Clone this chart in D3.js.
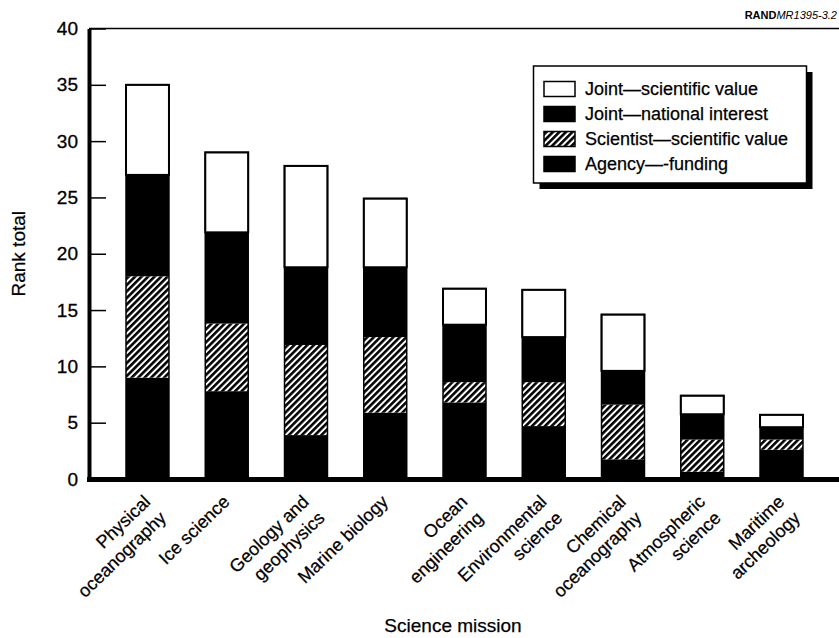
<!DOCTYPE html>
<html><head><meta charset="utf-8">
<script src="https://cdn.jsdelivr.net/npm/d3@7"></script>
<style>body{margin:0;background:#fff}svg{display:block;font-family:"Liberation Sans",Arial,Helvetica,sans-serif}</style>
</head><body><svg id="c" width="839" height="638"></svg>
<script>
// ---- data ----
const categories = ["Physical\noceanography","Ice science","Geology and\ngeophysics","Marine biology","Ocean\nengineering","Environmental\nscience","Chemical\noceanography","Atmospheric\nscience","Maritime\narcheology"];
const agencyFunding    = [9, 7.8, 3.9, 5.9, 6.8, 4.7, 1.75, 0.65, 2.6];
const scientistValue   = [9, 6.0, 8.0, 6.7, 1.8, 3.9, 4.85, 2.85, 0.9];
const jointNational    = [9, 8.1, 6.9, 6.2, 5.1, 4.0, 3.0, 2.25, 1.1];
const jointScientific  = [8, 7.1, 9.0, 6.1, 3.2, 4.2, 5.0, 1.65, 1.1];
const yTicks = [0,5,10,15,20,25,30,35,40];
const legendLabels = ["Joint\u2014scientific value","Joint\u2014national interest","Scientist\u2014scientific value","Agency\u2014-funding"];

const svg = d3.select("#c");
const X0 = 89, X1 = 840, Y0 = 479, Y1 = 28.5;

const x = d3.scaleBand().domain(categories).range([X0, X1]).paddingInner(0.458).paddingOuter(0.467);
const y = d3.scaleLinear().domain([0, 40]).range([Y0, Y1]);

const defs = svg.append("defs");
const pat = defs.append("pattern").attr("id","hatch").attr("patternUnits","userSpaceOnUse")
  .attr("width",4.6).attr("height",4.6).attr("patternTransform","rotate(45)");
pat.append("rect").attr("width",4.6).attr("height",4.6).attr("fill","#fff");
pat.append("rect").attr("x",0).attr("width",2.6).attr("height",4.6).attr("fill","#000");

const fills = ["#000","url(#hatch)","#000","#fff"];

const rows = categories.map((c,i)=>({cat:c, a:agencyFunding[i], s:scientistValue[i], n:jointNational[i], j:jointScientific[i]}));
const stack = d3.stack().keys(["a","s","n","j"])(rows);

// top frame line
svg.append("line").attr("x1",X0).attr("x2",839).attr("y1",Y1).attr("y2",Y1)
  .attr("stroke","#000").attr("stroke-width",1.6);

// bars
stack.forEach((layer,k)=>{
  svg.append("g").selectAll("rect").data(layer).join("rect")
    .attr("x", d=>x(d.data.cat)).attr("width", x.bandwidth())
    .attr("y", d=>y(d[1])).attr("height", d=>y(d[0])-y(d[1]))
    .attr("fill", fills[k])
    .attr("stroke", k===3 ? "#000" : "none").attr("stroke-width", 2);
});
// bar outlines
svg.append("g").selectAll("rect").data(stack[3]).join("rect")
  .attr("x", d=>x(d.data.cat)).attr("width", x.bandwidth())
  .attr("y", d=>y(d[1])).attr("height", d=>y(0)-y(d[1]))
  .attr("fill","none").attr("stroke","#000").attr("stroke-width",1.5);

// y axis
const gy = svg.append("g").attr("transform",`translate(${X0},0)`)
  .call(d3.axisLeft(y).tickValues(yTicks).tickSizeInner(-17).tickSizeOuter(0).tickPadding(11));
gy.select(".domain").attr("stroke-width",4);
gy.selectAll(".tick line").attr("stroke-width",1.5);
gy.selectAll(".tick text").attr("font-size",19).attr("font-family",null).attr("fill","#000")
  .attr("stroke","#000").attr("stroke-width",0.3);

// x axis
const gx = svg.append("g").attr("transform",`translate(0,${Y0})`)
  .call(d3.axisBottom(x).tickSize(0).tickSizeOuter(0));
gx.select(".domain").attr("d",`M${X0-2},0.5H839`).attr("stroke-width",5);
gx.selectAll(".tick text").each(function(d){
  const t = d3.select(this);
  t.text(null).attr("font-size",18).attr("font-family",null).attr("fill","#000")
   .attr("stroke","#000").attr("stroke-width",0.25)
   .attr("text-anchor","end").attr("y",null).attr("dy",null)
   .attr("transform","translate(4,24) rotate(-44)");
  d.split("\n").forEach((ln,i)=>{
    t.append("tspan").attr("x",0).attr("dy", i===0 ? 0 : 22.5).text(ln);
  });
});

// axis titles
svg.append("text").attr("transform",`translate(25,${(Y0+Y1)/2}) rotate(-90)`)
  .attr("text-anchor","middle").attr("font-size",19).attr("stroke","#000").attr("stroke-width",0.25).text("Rank total");
svg.append("text").attr("x",453).attr("y",632).attr("text-anchor","middle")
  .attr("font-size",19).attr("stroke","#000").attr("stroke-width",0.25).text("Science mission");

// RAND label
const rt = svg.append("text").attr("x",837).attr("y",19).attr("text-anchor","end").attr("font-size",11);
rt.append("tspan").attr("font-weight","bold").text("RAND");
rt.append("tspan").attr("font-style","italic").text("MR1395-3.2");

// legend
const lg = svg.append("g");
lg.append("rect").attr("x",539.5).attr("y",72).attr("width",273).attr("height",117).attr("fill","#000");
lg.append("rect").attr("x",533.5).attr("y",66).attr("width",273).attr("height",117)
  .attr("fill","#fff").attr("stroke","#000").attr("stroke-width",1.5);
const legFills = ["#fff","#000","url(#hatch)","#000"];
legendLabels.forEach((lab,i)=>{
  const cy = 89 + i*25;
  lg.append("rect").attr("x",544).attr("y",cy-7.5).attr("width",31).attr("height",15)
    .attr("fill",legFills[i]).attr("stroke","#000").attr("stroke-width",1.5);
  lg.append("text").attr("x",585).attr("y",cy).attr("dy","0.35em").attr("font-size",18)
    .attr("stroke","#000").attr("stroke-width",0.25).text(lab);
});
</script></body></html>
